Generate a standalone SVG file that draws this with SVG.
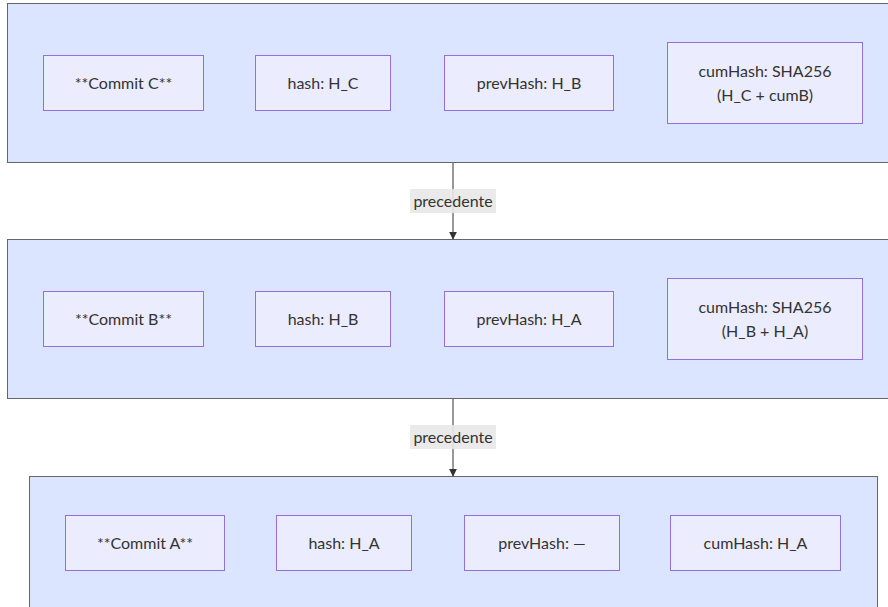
<svg xmlns="http://www.w3.org/2000/svg" width="888" height="607" viewBox="0 0 888 607">
<defs>
<marker id="arr" viewBox="0 0 10 10" refX="9" refY="5" markerWidth="8" markerHeight="8" markerUnits="userSpaceOnUse" orient="auto"><path d="M0,0 L10,5 L0,10 z" fill="#333"/></marker>
</defs>
<style>
.cl{fill:#dce5ff;stroke:#666;stroke-width:1}
.nd{fill:#ececff;stroke:#9370db;stroke-width:1}
text{font-family:"trebuchet ms",Lato,"Open Sans",sans-serif;font-size:16px;fill:#333;text-anchor:middle;dominant-baseline:central}
.edge{stroke:#333;stroke-width:1;fill:none}
.lbl{fill:#e8e8e8;opacity:0.9}
</style>
<rect width="888" height="607" fill="#fff"/>
<g id="clusterC"><rect class="cl" x="7.5" y="3.5" width="885" height="159"/></g>
<g id="clusterB"><rect class="cl" x="7.5" y="239.5" width="885" height="159"/></g>
<g id="clusterA"><rect class="cl" x="29.5" y="476.5" width="848" height="140"/></g>
<g id="connectors">
<path class="edge" d="M453,163 L453,239" marker-end="url(#arr)"/>
<rect class="lbl" x="410" y="189" width="86" height="24"/>
<text x="453" y="200">precedente</text>
<path class="edge" d="M453,399 L453,476" marker-end="url(#arr)"/>
<rect class="lbl" x="410" y="425" width="86" height="24"/>
<text x="453" y="436">precedente</text>
</g>
<g id="commitC"><rect class="nd" x="43.5" y="55.5" width="160" height="55"/><text x="123.5" y="82">**Commit C**</text></g>
<g id="hashC"><rect class="nd" x="255.5" y="55.5" width="135" height="55"/><text x="323" y="82">hash: H_C</text></g>
<g id="prevC"><rect class="nd" x="444.5" y="55.5" width="169" height="55"/><text x="529" y="82">prevHash: H_B</text></g>
<g id="cumC"><rect class="nd" x="667.5" y="42.5" width="195" height="81"/><text x="765" y="70">cumHash: SHA256</text><text x="765" y="94">(H_C + cumB)</text></g>
<g id="commitB"><rect class="nd" x="43.5" y="291.5" width="160" height="55"/><text x="123.5" y="318">**Commit B**</text></g>
<g id="hashB"><rect class="nd" x="255.5" y="291.5" width="135" height="55"/><text x="323" y="318">hash: H_B</text></g>
<g id="prevB"><rect class="nd" x="444.5" y="291.5" width="169" height="55"/><text x="529" y="318">prevHash: H_A</text></g>
<g id="cumB"><rect class="nd" x="667.5" y="278.5" width="195" height="81"/><text x="765" y="306">cumHash: SHA256</text><text x="765" y="330">(H_B + H_A)</text></g>
<g id="commitA"><rect class="nd" x="65.5" y="515.5" width="159" height="55"/><text x="145" y="542">**Commit A**</text></g>
<g id="hashA"><rect class="nd" x="276.5" y="515.5" width="135" height="55"/><text x="344" y="542">hash: H_A</text></g>
<g id="prevA"><rect class="nd" x="464.5" y="515.5" width="155" height="55"/><text x="542" y="542">prevHash: —</text></g>
<g id="cumA"><rect class="nd" x="670.5" y="515.5" width="170" height="55"/><text x="755.5" y="542">cumHash: H_A</text></g>
</svg>
